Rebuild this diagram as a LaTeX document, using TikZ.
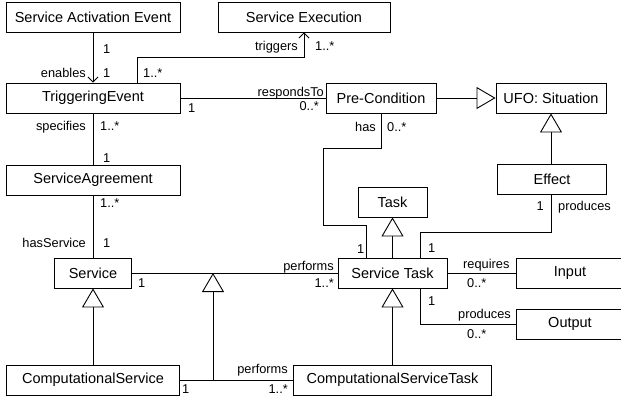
\documentclass[tikz,border=0pt]{standalone}
\usepackage{fontspec}
\setmainfont{Liberation Sans}
\usetikzlibrary{arrows.meta,positioning}
\tikzset{cls/.style={draw, line width=0.9pt, minimum height=30pt, inner sep=0pt, font=\fontsize{14.5}{17}\selectfont},
  lbl/.style={inner sep=0pt, font=\fontsize{12.8}{15}\selectfont},
  assoc/.style={line width=0.9pt},
  gen/.style={line width=0.9pt, -{Triangle[open, length=19pt, width=22pt, fill=white]}},
  nav/.style={line width=0.9pt, -{Straight Barb[length=5pt, width=10pt]}}}

\begin{document}
\begin{tikzpicture}[x=1pt,y=-1pt]
  \useasboundingbox (0,0) rectangle (621,400);

  \node[cls, minimum width=174pt] (sae)    at ( 93, 17) {Service Activation Event};
  \node[cls, minimum width=172pt] (exec)   at (304, 17) {Service Execution};
  \node[cls, minimum width=174pt] (trig)   at ( 93, 98) {TriggeringEvent};
  \node[cls, minimum width=110pt] (pre)    at (381, 98) {Pre-Condition};
  \node[cls, minimum width=110pt] (ufo)    at (551, 98) {UFO: Situation};
  \node[cls, minimum width=174pt] (agree)  at ( 93,180) {ServiceAgreement};
  \node[cls, minimum width=109pt] (effect) at (552,179) {Effect};
  \node[cls, minimum width= 69pt] (task)   at (392.5,202) {Task};
  \node[cls, minimum width= 77pt] (serv)   at ( 93,273) {Service};
  \node[cls, minimum width=109pt] (stask)  at (392.5,273) {Service Task};
  \node[cls, minimum width=108pt] (input)  at (570,273) {Input};
  \node[cls, minimum width=108pt] (output) at (570,324) {Output};
  \node[cls, minimum width=173pt] (cserv)  at ( 93,380) {ComputationalService};
  \node[cls, minimum width=198pt] (cstask) at (392.5,380) {ComputationalServiceTask};

  \coordinate (t1) at (137,57);
  \coordinate (h1) at (323,148);
  \coordinate (h2) at (366,225);
  \coordinate (p1) at (420,232);
  \coordinate (o1) at (420,288);
  \coordinate (q1) at (213,273);
  \coordinate (q2) at (213,380);

  \draw[nav] (sae) -- (trig);
  \draw[nav] (trig.north -| t1) -- (t1) -| (exec.south);
  \draw[assoc] (trig) -- (pre);
  \draw[gen] (pre) -- (ufo);
  \draw[gen] (effect.north -| ufo.south) -- (ufo.south);
  \draw[assoc] (trig) -- (agree);
  \draw[assoc] (agree) -- (serv);
  \draw[assoc] (pre.south) |- (h1) |- (h2) -- (h2 |- stask.north);
  \draw[assoc] (effect.south -| ufo.south) |- (p1) -- (p1 |- stask.north);
  \draw[gen] (stask) -- (task);
  \draw[assoc] (serv) -- (stask);
  \draw[assoc] (stask) -- (input);
  \draw[assoc] (o1) |- (output.west);
  \draw[gen] (cserv) -- (serv);
  \draw[gen] (cstask) -- (stask);
  \draw[assoc] (cserv) -- (cstask);
  \draw[gen] (q2) -- (q1);

  \node[lbl, anchor=base west] (m1)  at (103, 53) {1};
  \node[lbl, anchor=base east] (m2)  at ( 86, 77) {enables};
  \node[lbl, anchor=base west] (m3)  at (103, 77) {1};
  \node[lbl, anchor=base west] (m4)  at (143, 77) {1..*};
  \node[lbl, anchor=base east] (m5)  at (298, 50) {triggers};
  \node[lbl, anchor=base west] (m6)  at (315, 50) {1..*};
  \node[lbl, anchor=base west] (m7)  at (188,112) {1};
  \node[lbl, anchor=base east] (m8)  at (324, 96) {respondsTo};
  \node[lbl, anchor=base east] (m9)  at (319,110) {0..*};
  \node[lbl, anchor=base east] (m10) at ( 86,130) {specifies};
  \node[lbl, anchor=base west] (m11) at (100,130) {1..*};
  \node[lbl, anchor=base west] (m12) at (103,162) {1};
  \node[lbl, anchor=base west] (m13) at (100,207) {1..*};
  \node[lbl, anchor=base east] (m14) at ( 86,247) {hasService};
  \node[lbl, anchor=base west] (m15) at (103,247) {1};
  \node[lbl, anchor=base east] (m16) at (376,131) {has};
  \node[lbl, anchor=base west] (m17) at (387,131) {0..*};
  \node[lbl, anchor=base west] (m18) at (357,253) {1};
  \node[lbl, anchor=base east] (m19) at (544,210) {1};
  \node[lbl, anchor=base west] (m20) at (558,210) {produces};
  \node[lbl, anchor=base west] (m21) at (428,252) {1};
  \node[lbl, anchor=base east] (m22) at (334,270) {performs};
  \node[lbl, anchor=base west] (m23) at (138,287) {1};
  \node[lbl, anchor=base east] (m24) at (334,287) {1..*};
  \node[lbl, anchor=base west] (m25) at (463,268) {requires};
  \node[lbl, anchor=base west] (m26) at (467,287) {0..*};
  \node[lbl, anchor=base west] (m27) at (428,305) {1};
  \node[lbl, anchor=base west] (m28) at (458,318) {produces};
  \node[lbl, anchor=base west] (m29) at (467,338) {0..*};
  \node[lbl, anchor=base east] (m30) at (288,373) {performs};
  \node[lbl, anchor=base west] (m31) at (182,393) {1};
  \node[lbl, anchor=base east] (m32) at (288,393) {1..*};
\end{tikzpicture}
\end{document}
